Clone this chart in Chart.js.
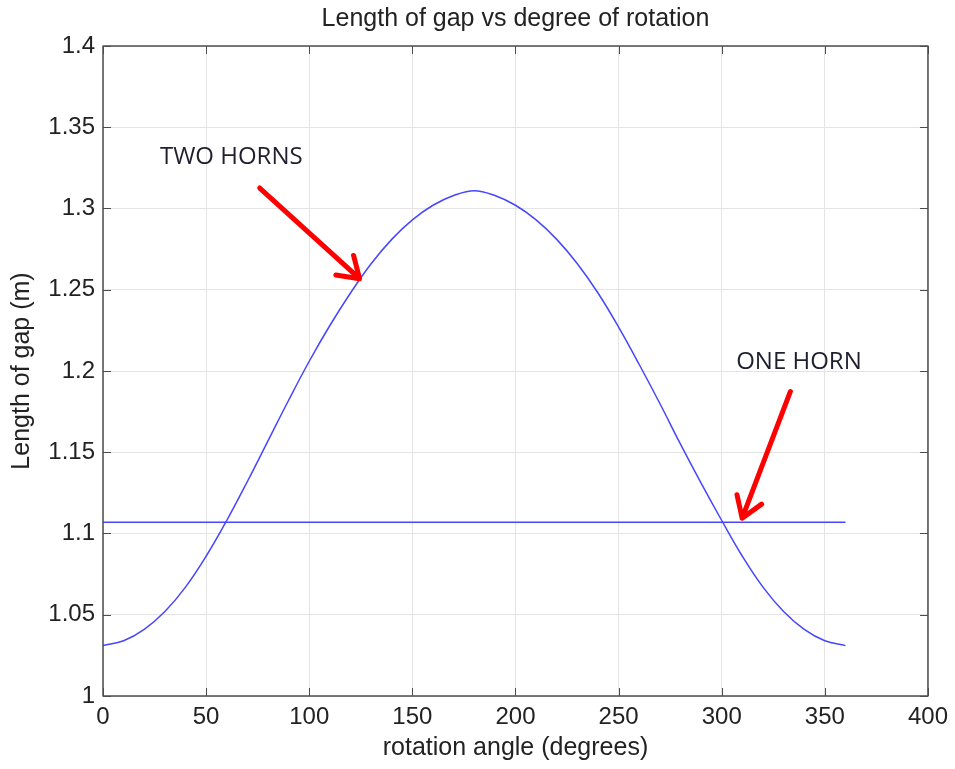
<!DOCTYPE html>
<html>
<head>
<meta charset="utf-8">
<script src="https://cdn.jsdelivr.net/npm/chart.js@4/dist/chart.umd.min.js"></script>
<style>
  html, body { margin: 0; padding: 0; background: #fff; }
  #wrap { width: 955px; height: 769px; }
</style>
</head>
<body>
<div id="wrap"><canvas id="chart" width="955" height="769"></canvas></div>
<script>
// values
var angles = [0, 10, 20, 30, 40, 50, 60, 70, 80, 90, 100, 110, 120, 130, 140, 150, 160, 170, 180,
              190, 200, 210, 220, 230, 240, 250, 260, 270, 280, 290, 300, 310, 320, 330, 340, 350, 360];
var gapTwoHorns = [1.031, 1.034, 1.041, 1.052, 1.067, 1.086, 1.108, 1.132, 1.157, 1.182, 1.206, 1.228, 1.248, 1.266, 1.281, 1.293, 1.302, 1.308, 1.311,
                   1.308, 1.302, 1.293, 1.281, 1.266, 1.248, 1.227, 1.204, 1.180, 1.155, 1.131, 1.108, 1.086, 1.067, 1.052, 1.041, 1.034, 1.031];
var oneHornAngles = [0, 360];
var gapOneHorn = [1.107, 1.107];

var xTicks = [0, 50, 100, 150, 200, 250, 300, 350, 400];
var yTicks = [1, 1.05, 1.1, 1.15, 1.2, 1.25, 1.3, 1.35, 1.4];

var labelTexts = ["TWO HORNS", "ONE HORN"];

// annotation anchors in data units
var notes = [
    { text: labelTexts[0], x: 27.6, y: 1.3313, from: [76.0, 1.3126], to: [124.4, 1.2568] },
    { text: labelTexts[1], x: 307, y: 1.2054, from: [333.3, 1.1874], to: [309.9, 1.1094] }
];

function points(xs, ys) {
    return xs.map(function (x, i) { return { x: x, y: ys[i] }; });
}

var framePlugin = {
    id: 'frame',
    afterDraw: function (chart) {
        var ctx = chart.ctx;
        var a = chart.chartArea;
        var xs = chart.scales.x, ys = chart.scales.y;
        ctx.save();

        // annotations
        ctx.fillStyle = '#1f1f2e';
        ctx.font = '24px "Open Sans"';
        ctx.textBaseline = 'middle';
        ctx.textAlign = 'left';
        notes.forEach(function (n) {
            ctx.fillText(n.text, xs.getPixelForValue(n.x), ys.getPixelForValue(n.y));
            var x1 = xs.getPixelForValue(n.from[0]), y1 = ys.getPixelForValue(n.from[1]);
            var x2 = xs.getPixelForValue(n.to[0]), y2 = ys.getPixelForValue(n.to[1]);
            var ang = Math.atan2(y2 - y1, x2 - x1);
            var len = 24, spread = 0.58;
            ctx.strokeStyle = '#ff0000';
            ctx.lineWidth = 5;
            ctx.lineCap = 'round';
            ctx.lineJoin = 'round';
            ctx.beginPath();
            ctx.moveTo(x1, y1);
            ctx.lineTo(x2, y2);
            ctx.moveTo(x2 - len * Math.cos(ang - spread), y2 - len * Math.sin(ang - spread));
            ctx.lineTo(x2, y2);
            ctx.lineTo(x2 - len * Math.cos(ang + spread), y2 - len * Math.sin(ang + spread));
            ctx.stroke();
        });

        // box and inward ticks
        ctx.strokeStyle = '#4d4d4d';
        ctx.lineWidth = 1.5;
        ctx.lineCap = 'butt';
        ctx.strokeRect(a.left, a.top, a.right - a.left, a.bottom - a.top);
        ctx.lineWidth = 1;
        ctx.beginPath();
        var t = 8;
        xTicks.forEach(function (v) {
            var px = Math.round(xs.getPixelForValue(v)) + 0.5;
            ctx.moveTo(px, a.bottom); ctx.lineTo(px, a.bottom - t);
            ctx.moveTo(px, a.top); ctx.lineTo(px, a.top + t);
        });
        yTicks.forEach(function (v) {
            var py = Math.round(ys.getPixelForValue(v)) + 0.5;
            ctx.moveTo(a.left, py); ctx.lineTo(a.left + t, py);
            ctx.moveTo(a.right, py); ctx.lineTo(a.right - t, py);
        });
        ctx.stroke();
        ctx.restore();
    }
};

var font = '"Liberation Sans", Arial, sans-serif';

var canvas = document.getElementById('chart').getContext('2d');
var chart = new Chart(canvas, {
    type: 'line',
    data: {
        datasets: [
            {
                label: 'two horns',
                data: points(angles, gapTwoHorns),
                borderColor: '#4646ff',
                borderWidth: 1.5,
                pointRadius: 0,
                tension: 0.4,
                fill: false
            },
            {
                label: 'one horn',
                data: points(oneHornAngles, gapOneHorn),
                borderColor: '#4646ff',
                borderWidth: 1.5,
                pointRadius: 0,
                fill: false
            }
        ]
    },
    options: {
        responsive: false,
        animation: false,
        events: [],
        layout: { padding: { left: 0, right: 26, top: 0, bottom: 0 } },
        plugins: {
            legend: { display: false },
            tooltip: { enabled: false },
            title: {
                display: true,
                fullSize: false,
                text: 'Length of gap vs degree of rotation',
                color: '#222',
                font: { family: font, size: 25, weight: 'normal' },
                padding: { top: 4, bottom: 12 }
            }
        },
        scales: {
            x: {
                type: 'linear',
                min: 0,
                max: 400,
                afterFit: function (s) { s.height = 73; },
                afterBuildTicks: function (s) { s.ticks = xTicks.map(function (v) { return { value: v }; }); },
                border: { display: false },
                grid: { color: '#e4e4e4', drawTicks: false },
                ticks: {
                    autoSkip: false,
                    maxRotation: 0,
                    padding: 7,
                    color: '#222',
                    font: { family: font, size: 24 }
                },
                title: {
                    display: true,
                    text: 'rotation angle (degrees)',
                    color: '#222',
                    font: { family: font, size: 25 },
                    padding: { top: 0, bottom: 6 }
                }
            },
            y: {
                min: 1,
                max: 1.4,
                afterFit: function (s) { s.width = 103; },
                afterBuildTicks: function (s) { s.ticks = yTicks.map(function (v) { return { value: v }; }); },
                border: { display: false },
                grid: { color: '#e4e4e4', drawTicks: false },
                ticks: {
                    autoSkip: false,
                    padding: 8,
                    color: '#222',
                    font: { family: font, size: 24 },
                    callback: function (v) { return String(parseFloat(Number(v).toFixed(2))); }
                },
                title: {
                    display: true,
                    text: 'Length of gap (m)',
                    color: '#222',
                    font: { family: font, size: 25 },
                    padding: { top: 7, bottom: 0 }
                }
            }
        }
    },
    plugins: [framePlugin]
});
</script>
</body>
</html>
